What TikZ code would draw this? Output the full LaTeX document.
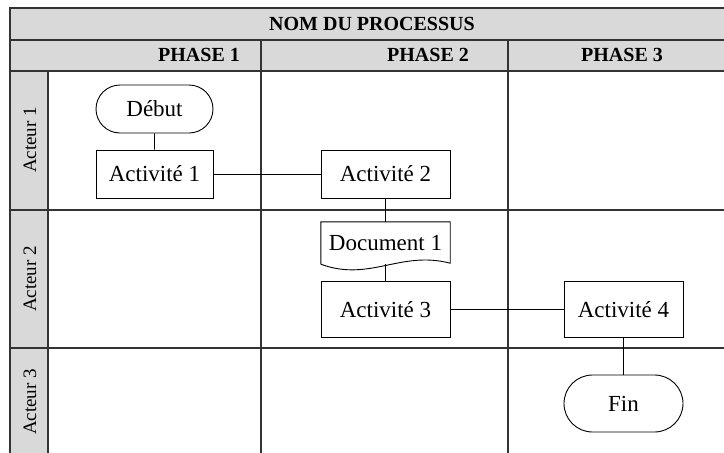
\documentclass[tikz,border=0pt]{standalone}
\usepackage{fontspec}
\setmainfont{Liberation Serif}
\usetikzlibrary{shapes.misc,calc}
\definecolor{hdrgray}{HTML}{D9D9D9}
\definecolor{gridline}{HTML}{333333}

\begin{document}
\begin{tikzpicture}[x=1pt,y=-1pt,
  grid/.style={draw=gridline, line width=1.3pt},
  hdr/.style={font=\fontsize{20}{24}\selectfont\bfseries, inner sep=0pt},
  actor/.style={rotate=90, font=\fontsize{19}{22}\selectfont, inner sep=0pt},
  box/.style={draw, line width=0.9pt, minimum width=117pt, minimum height=48pt,
              font=\fontsize{23}{27}\selectfont, inner sep=0pt},
  term/.style={box, rounded rectangle},
  link/.style={draw, line width=0.9pt}]

\useasboundingbox (0,0) rectangle (724,453);

% header band and actor column
\fill[hdrgray] (10,8) rectangle (724,71);
\fill[hdrgray] (10,71) rectangle (48,453);

% swimlane grid
\draw[grid] (10,453) -- (10,8) -- (724,8);
\draw[grid] (10,40) -- (724,40);
\draw[grid] (10,71) -- (724,71);
\draw[grid] (10,210) -- (724,210);
\draw[grid] (10,348) -- (724,348);
\draw[grid] (48,71) -- (48,453);
\draw[grid] (261,40) -- (261,453);
\draw[grid] (508,40) -- (508,453);

% headings
\node[hdr] (title) at (372,24) {NOM DU PROCESSUS};
\node[hdr] (ph1) at (199,55) {PHASE 1};
\node[hdr] (ph2) at (428,55) {PHASE 2};
\node[hdr] (ph3) at (622,55) {PHASE 3};
\node[actor] (ac1) at (30,140) {Acteur 1};
\node[actor] (ac2) at (30,279) {Acteur 2};
\node[actor] (ac3) at (30,402) {Acteur 3};

% flow elements
\node[term] (debut) at (154.5,109) {Début};
\node[box] (a1) at (154.5,174) {Activité 1};
\node[box, minimum width=129pt] (a2) at (385.5,174) {Activité 2};
\node[minimum width=129pt, minimum height=42pt, inner sep=0pt,
      font=\fontsize{23}{27}\selectfont] (doc) at (385.5,243) {Document 1};
\draw[link] (doc.south west) -- (doc.north west) -- (doc.north east)
  -- ($(doc.south east)+(0,-1)$)
  .. controls ($(doc.south east)+(-50,-14)$) and ($(doc.south west)+(49,18)$)
  .. (doc.south west);
\node[box, minimum width=129pt, minimum height=56pt] (a3) at (385.5,309.5) {Activité 3};
\node[box, minimum width=119pt, minimum height=56pt] (a4) at (623.5,309.5) {Activité 4};
\node[term, minimum width=119pt, minimum height=57pt] (fin) at (623.5,403.5) {Fin};

% connectors
\draw[link] (debut) -- (a1);
\draw[link] (a1) -- (a2);
\draw[link] (a2) -- (doc);
\draw[link] (doc) -- (a3);
\draw[link] (a3) -- (a4);
\draw[link] (a4) -- (fin);
\end{tikzpicture}
\end{document}
